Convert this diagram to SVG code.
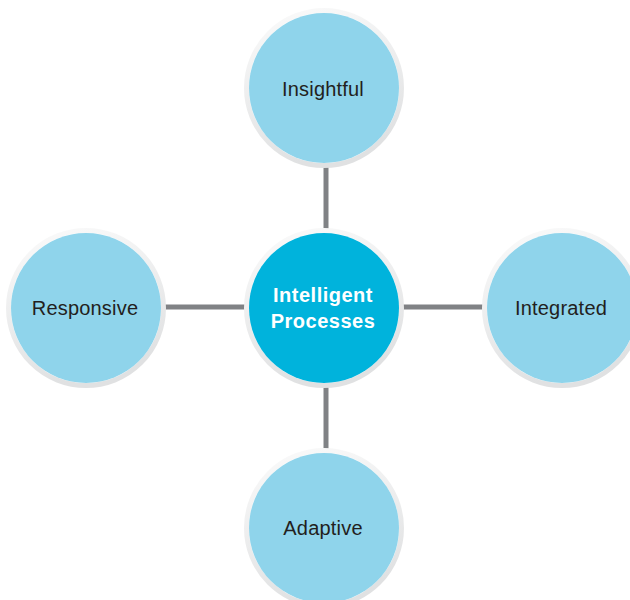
<svg xmlns="http://www.w3.org/2000/svg" width="630" height="600" viewBox="0 0 630 600">
<defs>
<linearGradient id="ring" x1="0" y1="0" x2="0.3" y2="1">
<stop offset="0" stop-color="#fbfbfb"/>
<stop offset="1" stop-color="#e0e1e2"/>
</linearGradient>
<style>
.ring{fill:#ffffff;stroke:url(#ring);stroke-width:5}
.sat{fill:#8fd4eb}
.hub{fill:#00b3dc}
.lbl{font-family:"Liberation Sans",Arial,sans-serif;font-size:20px;fill:#231f20;text-anchor:middle;letter-spacing:0.2px}
.hubl{font-family:"Liberation Sans",Arial,sans-serif;font-size:20px;font-weight:bold;fill:#ffffff;text-anchor:middle;letter-spacing:0.5px}
.con{stroke:#808285;stroke-width:5;fill:none}
</style>
</defs>
<rect width="630" height="600" fill="#ffffff"/>
<g id="connectors">
<line class="con" x1="326" y1="166" x2="326" y2="229"/>
<line class="con" x1="326" y1="387" x2="326" y2="449"/>
<line class="con" x1="161" y1="307" x2="246" y2="307"/>
<line class="con" x1="403" y1="307" x2="488" y2="307"/>
</g>
<g id="insightful">
<circle class="ring" cx="324" cy="88" r="77.5"/>
<circle class="sat" cx="324" cy="88" r="75"/>
<text class="lbl" x="323" y="96">Insightful</text>
</g>
<g id="responsive">
<circle class="ring" cx="86" cy="308" r="77.5"/>
<circle class="sat" cx="86" cy="308" r="75"/>
<text class="lbl" x="85" y="315">Responsive</text>
</g>
<g id="integrated">
<circle class="ring" cx="562" cy="308" r="77.5"/>
<circle class="sat" cx="562" cy="308" r="75"/>
<text class="lbl" x="561" y="315">Integrated</text>
</g>
<g id="adaptive">
<circle class="ring" cx="324" cy="528" r="77.5"/>
<circle class="sat" cx="324" cy="528" r="75"/>
<text class="lbl" x="323" y="535">Adaptive</text>
</g>
<g id="center">
<circle class="ring" cx="324" cy="308" r="77.5"/>
<circle class="hub" cx="324" cy="308" r="75"/>
<text class="hubl" x="323" y="302">Intelligent</text>
<text class="hubl" x="323" y="328">Processes</text>
</g>
</svg>
